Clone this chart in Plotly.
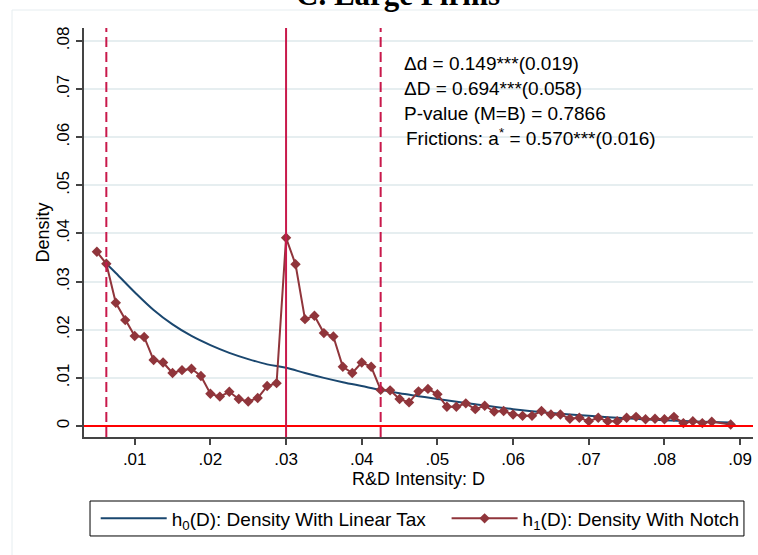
import plotly.graph_objects as go

# ---------------- data ----------------
notch_x = [0.005, 0.00625, 0.0075, 0.00875, 0.01, 0.01125, 0.0125, 0.01375, 0.015, 0.01625,
           0.0175, 0.01875, 0.02, 0.02125, 0.0225, 0.02375, 0.025, 0.02625, 0.0275, 0.02875,
           0.03, 0.03125, 0.0325, 0.03375, 0.035, 0.03625, 0.0375, 0.03875, 0.04, 0.04125,
           0.0425, 0.04375, 0.045, 0.04625, 0.0475, 0.04875, 0.05, 0.05125, 0.0525, 0.05375,
           0.055, 0.05625, 0.0575, 0.05875, 0.06, 0.06125, 0.0625, 0.06375, 0.065, 0.06625,
           0.0675, 0.06875, 0.07, 0.07125, 0.0725, 0.07375, 0.075, 0.07625, 0.0775, 0.07875,
           0.08, 0.08125, 0.0825, 0.08375, 0.085, 0.08625, 0.08875]
notch_y = [0.0362, 0.0337, 0.0256, 0.0220, 0.0187, 0.0185, 0.0137, 0.0132, 0.0110, 0.0116,
           0.0119, 0.0104, 0.0067, 0.0061, 0.0071, 0.0056, 0.0051, 0.0058, 0.0083, 0.0089,
           0.0391, 0.0336, 0.0222, 0.0229, 0.0193, 0.0186, 0.0123, 0.0110, 0.0132, 0.0123,
           0.0075, 0.0074, 0.0056, 0.0049, 0.0072, 0.0077, 0.0066, 0.0040, 0.0040, 0.0047,
           0.0035, 0.0042, 0.0030, 0.0031, 0.0024, 0.0021, 0.0021, 0.0031, 0.0024, 0.0024,
           0.0015, 0.0017, 0.0010, 0.0017, 0.0010, 0.0010, 0.0017, 0.0019, 0.0014, 0.0015,
           0.0014, 0.0019, 0.0006, 0.0010, 0.0006, 0.0009, 0.0003]

linear_x = [0.00625, 0.0075, 0.01, 0.0125, 0.015, 0.0175, 0.02, 0.0225, 0.025, 0.0275,
            0.03, 0.0325, 0.035, 0.0375, 0.04, 0.0425, 0.045, 0.0475, 0.05, 0.055,
            0.06, 0.065, 0.07, 0.075, 0.08, 0.085, 0.08875]
linear_y = [0.0337, 0.0318, 0.0278, 0.0241, 0.0211, 0.0187, 0.0168, 0.0152, 0.0139, 0.0128,
            0.0121, 0.0110, 0.0100, 0.0091, 0.0083, 0.0075, 0.0068, 0.0062, 0.0056, 0.0045,
            0.0035, 0.0027, 0.0021, 0.0016, 0.0012, 0.0009, 0.0007]

lower_bound = 0.00625
notch_point = 0.03
upper_bound = 0.0425

x_tickvals = [0.01, 0.02, 0.03, 0.04, 0.05, 0.06, 0.07, 0.08, 0.09]
x_ticktext = [".01", ".02", ".03", ".04", ".05", ".06", ".07", ".08", ".09"]
y_tickvals = [0, 0.01, 0.02, 0.03, 0.04, 0.05, 0.06, 0.07, 0.08]
y_ticktext = ["0", ".01", ".02", ".03", ".04", ".05", ".06", ".07", ".08"]

stats_lines = ["Δd = 0.149***(0.019)",
               "ΔD = 0.694***(0.058)",
               "P-value (M=B) = 0.7866",
               "Frictions: a<sup>*</sup> = 0.570***(0.016)"]

title_text = "C. Large Firms"

# ---------------- figure ----------------
NAVY = "#1a476f"
MAROON = "#90353b"
VLINE = "#c8194b"
FONT = "Liberation Sans"

fig = go.Figure()
fig.add_trace(go.Scatter(
    x=linear_x, y=linear_y, mode="lines", line=dict(color=NAVY, width=2, shape="spline"),
    name="h<sub>0</sub>(D): Density With Linear Tax", legend="legend"))
fig.add_trace(go.Scatter(
    x=notch_x, y=notch_y, mode="lines+markers",
    line=dict(color=MAROON, width=2),
    marker=dict(symbol="diamond", size=8, color=MAROON),
    name="h<sub>1</sub>(D): Density With Notch", legend="legend2"))

# reference lines
fig.add_hline(y=0, line=dict(color="#ff0000", width=2))
fig.add_vline(x=lower_bound, line=dict(color=VLINE, width=2, dash="10px,5px"))
fig.add_vline(x=notch_point, line=dict(color=VLINE, width=2))
fig.add_vline(x=upper_bound, line=dict(color=VLINE, width=2, dash="10px,5px"))

# stats text
stats_y = [0.912, 0.853, 0.792, 0.733]
stats_x = [0.4753, 0.4753, 0.4753, 0.4783]
for t, sx, sy in zip(stats_lines, stats_x, stats_y):
    fig.add_annotation(x=sx, y=sy, xref="paper", yref="paper",
                       text=t, showarrow=False, xanchor="left", yanchor="middle",
                       font=dict(family=FONT, size=19, color="black"))

# title (mostly cut at top)
fig.add_annotation(x=0.469, y=1.035, xref="paper", yref="paper", text="<b>" + title_text + "</b>",
                   showarrow=False, xanchor="center", yanchor="bottom",
                   font=dict(family="Liberation Serif", size=31, color="black"))

# light outer frame
fig.add_shape(type="rect", xref="paper", yref="paper", x0=-0.1076, x1=1.03, y0=-0.35, y1=1.044,
              line=dict(color="#e6edf0", width=1), layer="below")
# legend frame
fig.add_shape(type="rect", xref="paper", yref="paper", x0=0.009, x1=0.9865, y0=-0.242, y1=-0.1565,
              line=dict(color="black", width=1), fillcolor="white", layer="below")

leg_common = dict(orientation="h", y=-0.1993, yanchor="middle", xanchor="left",
                  borderwidth=0, bgcolor="rgba(0,0,0,0)", font=dict(family=FONT, size=19),
                  itemwidth=66)

fig.update_layout(
    width=758, height=555,
    margin=dict(l=84, r=5, t=28, b=118),
    paper_bgcolor="white", plot_bgcolor="white",
    font=dict(family=FONT, size=18, color="black"),
    showlegend=True,
    legend=dict(x=0.0175, **leg_common),
    legend2=dict(x=0.542, **leg_common),
    xaxis=dict(range=[0.0033, 0.0917], tickvals=x_tickvals, ticktext=x_ticktext,
               showgrid=False, zeroline=False, showline=True, linecolor="#444444", linewidth=1.5,
               ticks="outside", ticklen=6, tickcolor="#444444", tickwidth=1.5,
               tickfont=dict(size=17), title=dict(text="R&D Intensity: D", font=dict(size=18), standoff=2)),
    yaxis=dict(range=[-0.00229, 0.0827], tickvals=y_tickvals, ticktext=y_ticktext,
               showgrid=True, gridcolor="#e6eef0", gridwidth=1.5, zeroline=False,
               showline=True, linecolor="#444444", linewidth=1.5,
               ticks="outside", ticklen=6, tickcolor="#444444", tickwidth=1.5,
               tickangle=-90, tickfont=dict(size=17),
               title=dict(text="Density", font=dict(size=18), standoff=0)),
)

fig.write_html("out.html")
